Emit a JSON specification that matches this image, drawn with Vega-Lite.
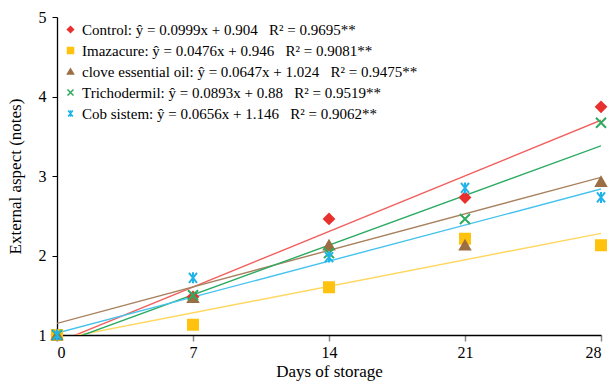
{
  "$schema": "https://vega.github.io/schema/vega-lite/v6.json",
  "width": 544,
  "height": 318,
  "autosize": {"type": "none"},
  "padding": {"left": 57, "top": 17, "right": 13, "bottom": 50},
  "background": "white",
  "config": {
    "view": {"stroke": null},
    "font": "Liberation Serif",
    "axis": {"grid": false, "labelFont": "Liberation Serif", "titleFont": "Liberation Serif", "labelColor": "#000", "titleColor": "#000", "titleFontWeight": "normal", "domainColor": "#000", "domainWidth": 1.3},
    "legend": {"labelFont": "Liberation Serif"}
  },
  "datasets": {
    "pts": [
      {"series": "Control", "day": 0, "value": 1.0},
      {"series": "Control", "day": 7, "value": 1.48},
      {"series": "Control", "day": 14, "value": 2.46},
      {"series": "Control", "day": 21, "value": 2.73},
      {"series": "Control", "day": 28, "value": 3.87},
      {"series": "Imazacure", "day": 0, "value": 1.0},
      {"series": "Imazacure", "day": 7, "value": 1.13},
      {"series": "Imazacure", "day": 14, "value": 1.6},
      {"series": "Imazacure", "day": 21, "value": 2.21},
      {"series": "Imazacure", "day": 28, "value": 2.13},
      {"series": "clove essential oil", "day": 0, "value": 1.0},
      {"series": "clove essential oil", "day": 7, "value": 1.47},
      {"series": "clove essential oil", "day": 14, "value": 2.13},
      {"series": "clove essential oil", "day": 21, "value": 2.13},
      {"series": "clove essential oil", "day": 28, "value": 2.93},
      {"series": "Trichodermil", "day": 0, "value": 1.0},
      {"series": "Trichodermil", "day": 7, "value": 1.5},
      {"series": "Trichodermil", "day": 14, "value": 2.03},
      {"series": "Trichodermil", "day": 21, "value": 2.46},
      {"series": "Trichodermil", "day": 28, "value": 3.67},
      {"series": "Cob sistem", "day": 0, "value": 1.0},
      {"series": "Cob sistem", "day": 7, "value": 1.72},
      {"series": "Cob sistem", "day": 14, "value": 1.98},
      {"series": "Cob sistem", "day": 21, "value": 2.85},
      {"series": "Cob sistem", "day": 28, "value": 2.73}
    ],
    "fits": [
      {"series": "Control", "day": 0, "value": 0.904},
      {"series": "Control", "day": 28, "value": 3.701},
      {"series": "Imazacure", "day": 0, "value": 0.946},
      {"series": "Imazacure", "day": 28, "value": 2.279},
      {"series": "clove essential oil", "day": 0, "value": 1.146},
      {"series": "clove essential oil", "day": 28, "value": 2.983},
      {"series": "Trichodermil", "day": 0, "value": 0.88},
      {"series": "Trichodermil", "day": 28, "value": 3.38},
      {"series": "Cob sistem", "day": 0, "value": 1.024},
      {"series": "Cob sistem", "day": 28, "value": 2.836}
    ]
  },
  "encoding": {
    "x": {
      "field": "day", "type": "quantitative",
      "scale": {"domain": [0, 28], "nice": false, "zero": false},
      "axis": {"values": [0, 7, 14, 21, 28], "title": "Days of storage", "labelFontSize": 16, "titleFontSize": 17, "labelPadding": 3, "titlePadding": 3, "tickColor": "#888", "tickSize": 6, "tickWidth": 1.5}
    },
    "y": {
      "field": "value", "type": "quantitative",
      "scale": {"domain": [1, 5], "nice": false, "zero": false},
      "axis": {"values": [1, 2, 3, 4, 5], "title": "External aspect (notes)", "labelFontSize": 16, "titleFontSize": 17, "labelPadding": 6, "titlePadding": 14, "tickColor": "#000", "tickSize": 5, "tickWidth": 1}
    }
  },
  "layer": [
    {
      "data": {"name": "fits"},
      "mark": {"type": "line", "strokeWidth": 1.4, "clip": true},
      "encoding": {
        "stroke": {
          "field": "series", "type": "nominal",
          "scale": {"domain": ["Control", "Imazacure", "clove essential oil", "Trichodermil", "Cob sistem"], "range": ["#F0605E", "#FFD75E", "#A8825F", "#2BAA62", "#45C2EE"]},
          "legend": null
        }
      }
    },
    {
      "data": {"name": "pts"},
      "mark": {"type": "point", "filled": false, "strokeWidth": 2, "opacity": 1, "size": 100},
      "encoding": {
        "color": {
          "field": "series", "type": "nominal",
          "scale": {"domain": ["Control", "Imazacure", "clove essential oil", "Trichodermil", "Cob sistem"], "range": ["#E8312E", "#FFC20E", "#9B6E43", "#2FAA5E", "#1EB4EA"]},
          "legend": {
            "title": null,
            "orient": "none",
            "legendX": 6,
            "legendY": 5,
            "labelFontSize": 15,
            "labelColor": "#000",
            "symbolSize": 36,
            "symbolStrokeWidth": 1.5,
            "rowPadding": 5,
            "labelOffset": 4,
            "labelLimit": 500,
            "labelExpr": "{'Control':'Control: ŷ = 0.0999x + 0.904\u00a0\u00a0\u00a0R² = 0.9695**','Imazacure':'Imazacure: ŷ = 0.0476x + 0.946\u00a0\u00a0\u00a0R² = 0.9081**','clove essential oil':'clove essential oil: ŷ = 0.0647x + 1.024\u00a0\u00a0\u00a0R² = 0.9475**','Trichodermil':'Trichodermil: ŷ = 0.0893x + 0.88\u00a0\u00a0\u00a0R² = 0.9519**','Cob sistem':'Cob sistem: ŷ = 0.0656x + 1.146\u00a0\u00a0\u00a0R² = 0.9062**'}[datum.label]",
            "encode": {"symbols": {"update": {"fill": {"scale": "fill", "field": "value"}}}}
          }
        },
        "fill": {
          "field": "series", "type": "nominal",
          "scale": {"domain": ["Control", "Imazacure", "clove essential oil", "Trichodermil", "Cob sistem"], "range": ["#E8312E", "#FFC20E", "#9B6E43", "transparent", "transparent"]},
          "legend": null
        },
        "shape": {
          "field": "series", "type": "nominal",
          "scale": {"domain": ["Control", "Imazacure", "clove essential oil", "Trichodermil", "Cob sistem"], "range": ["diamond", "square", "triangle-up", "M -1 -1 L 1 1 M -1 1 L 1 -1", "M -0.8 -1 L 0.8 1 M -0.8 1 L 0.8 -1 M 0 -1.1 L 0 1.1"]}
        }
      }
    }
  ],
  "resolve": {"scale": {"stroke": "independent"}}
}
